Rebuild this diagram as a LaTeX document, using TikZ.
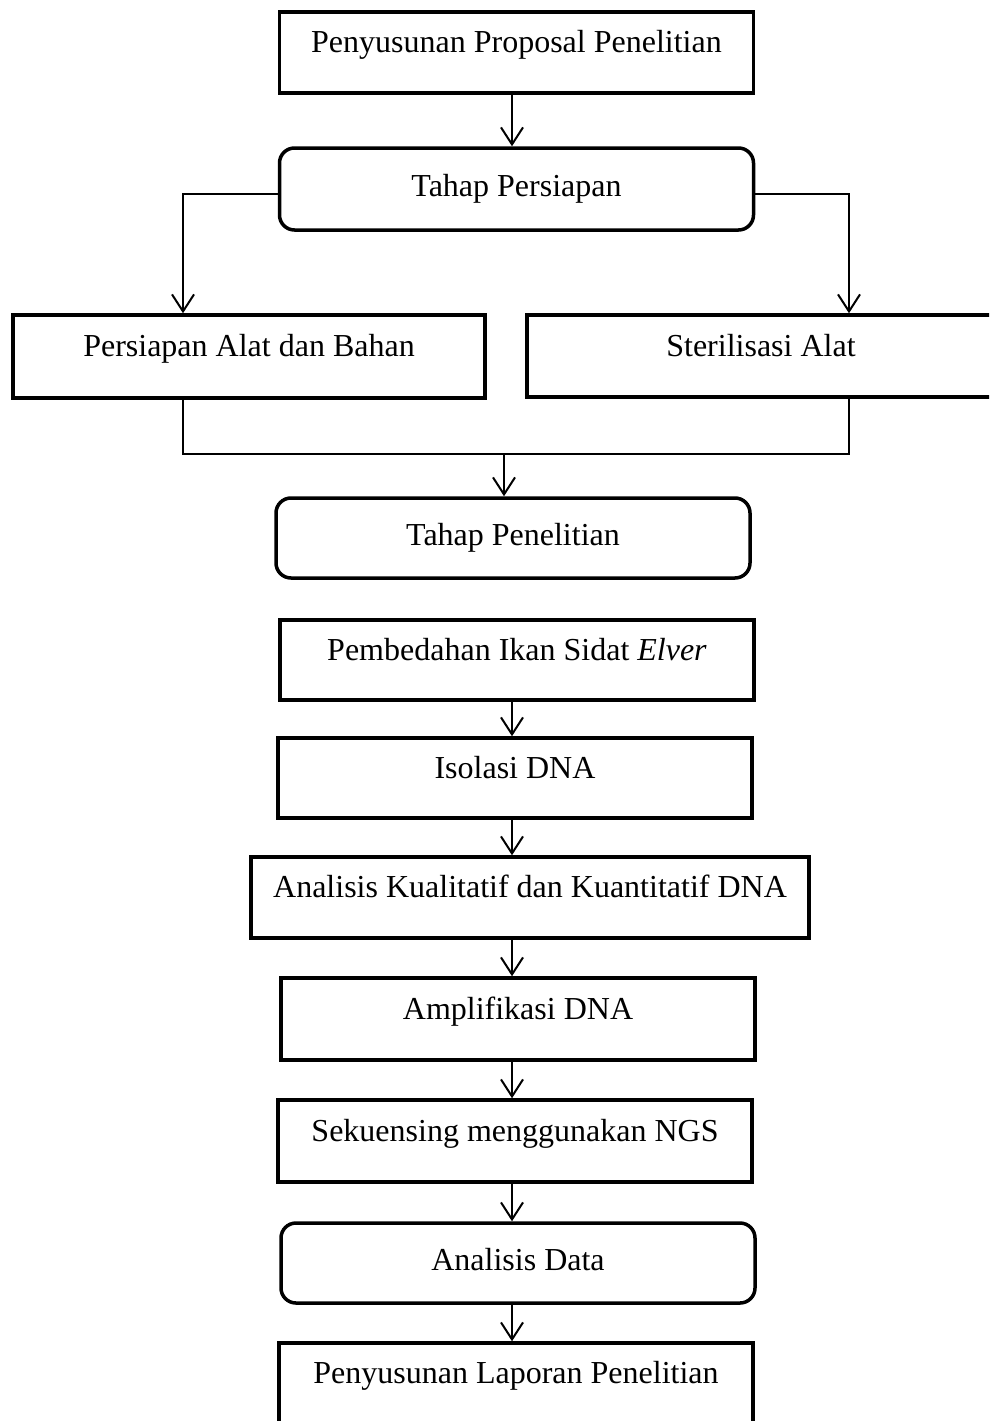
\documentclass[tikz,border=0pt]{standalone}
\usepackage{fontspec}
\setmainfont{Liberation Serif}
\usetikzlibrary{arrows.meta,positioning}

\tikzset{
    kotak/.style={draw, line width=3.5pt, minimum width=474pt, minimum height=81pt,
        text height=22pt, text depth=22pt, inner sep=0pt},
    kotakbulat/.style={kotak, rounded corners=15pt, text depth=8pt},
    garis/.style={line width=2pt},
    panah/.style={garis, -{Straight Barb[length=17pt,width=22pt]}}
}

\begin{document}
\begin{tikzpicture}[x=1pt, y=-1pt, font=\fontsize{32}{38}\selectfont]
    \clip (0,0) rectangle (989,1421);

    % tahap persiapan
    \node[kotak] (proposal) at (516.5,52.5) {Penyusunan Proposal Penelitian};
    \node[kotakbulat, minimum height=82pt] (persiapan) at (516.5,189) {Tahap Persiapan};
    \node[kotak, minimum width=472pt, minimum height=83pt] (alat) at (249,356.5) {Persiapan Alat dan Bahan};
    \node[kotak, minimum width=468pt, minimum height=82pt] (steril) at (761,356) {Sterilisasi Alat};

    % tahap penelitian
    \node[kotakbulat, minimum height=80pt] (penelitian) at (513,538) {Tahap Penelitian};
    \node[kotak, minimum height=80pt] (bedah) at (517,660) {Pembedahan Ikan Sidat \textit{Elver}};
    \node[kotak, minimum height=80pt] (isolasi) at (515,778) {Isolasi DNA};
    \node[kotak, minimum width=558pt] (kuali) at (530,897.5) {Analisis Kualitatif dan Kuantitatif DNA};
    \node[kotak, minimum height=82pt] (amplif) at (518,1019) {Amplifikasi DNA};
    \node[kotak, minimum height=82pt] (sekuens) at (515,1141) {Sekuensing menggunakan NGS};
    \node[kotakbulat, minimum height=80pt] (data) at (518,1263) {Analisis Data};
    \node[kotak, minimum height=101pt, text depth=42pt] (laporan) at (516,1393.5) {Penyusunan Laporan Penelitian};

    \coordinate (kiri) at (183,0);
    \coordinate (kanan) at (849,0);
    \coordinate (tengah) at (512,0);
    \coordinate (gabung) at (504,454);

    \draw[panah] (proposal.south -| tengah) -- (persiapan.north -| tengah);
    \draw[panah] ([yshift=-5pt]persiapan.west) -| (alat.north -| kiri);
    \draw[panah] ([yshift=-5pt]persiapan.east) -| (steril.north -| kanan);
    \draw[garis] (alat.south -| kiri) |- (gabung) -| (steril.south -| kanan);
    \draw[panah] (gabung) -- (penelitian.north -| gabung);

    \draw[panah] (bedah.south -| tengah) -- (isolasi.north -| tengah);
    \draw[panah] (isolasi.south -| tengah) -- (kuali.north -| tengah);
    \draw[panah] (kuali.south -| tengah) -- (amplif.north -| tengah);
    \draw[panah] (amplif.south -| tengah) -- (sekuens.north -| tengah);
    \draw[panah] (sekuens.south -| tengah) -- (data.north -| tengah);
    \draw[panah] (data.south -| tengah) -- (laporan.north -| tengah);
\end{tikzpicture}
\end{document}
